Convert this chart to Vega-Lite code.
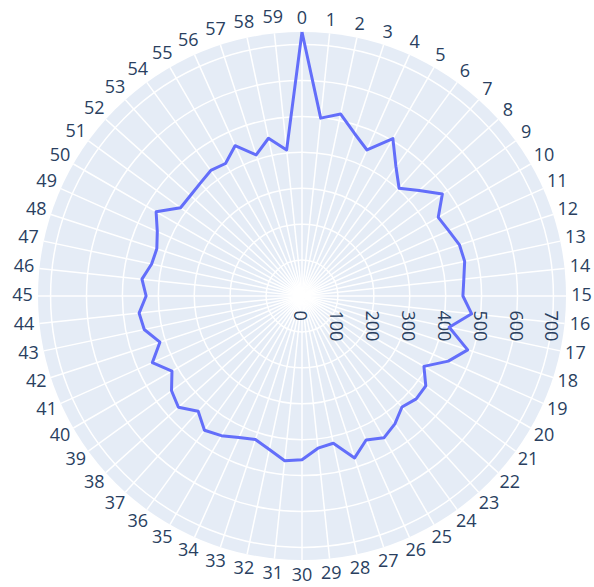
{
  "$schema": "https://vega.github.io/schema/vega-lite/v6.json",
  "width": 528,
  "height": 528,
  "autosize": "none",
  "padding": {"left": 38, "top": 32, "right": 28, "bottom": 27},
  "background": "white",
  "config": {"view": {"stroke": null}},
  "datasets": {
    "disc": [{"r": 735}],
    "rings": [{"r": 100}, {"r": 200}, {"r": 300}, {"r": 400}, {"r": 500}, {"r": 600}, {"r": 700}],
    "ticks": [{"t": 0}, {"t": 100}, {"t": 200}, {"t": 300}, {"t": 400}, {"t": 500}, {"t": 600}, {"t": 700}],
    "cats": [{"k":0},{"k":1},{"k":2},{"k":3},{"k":4},{"k":5},{"k":6},{"k":7},{"k":8},{"k":9},{"k":10},{"k":11},{"k":12},{"k":13},{"k":14},{"k":15},{"k":16},{"k":17},{"k":18},{"k":19},{"k":20},{"k":21},{"k":22},{"k":23},{"k":24},{"k":25},{"k":26},{"k":27},{"k":28},{"k":29},{"k":30},{"k":31},{"k":32},{"k":33},{"k":34},{"k":35},{"k":36},{"k":37},{"k":38},{"k":39},{"k":40},{"k":41},{"k":42},{"k":43},{"k":44},{"k":45},{"k":46},{"k":47},{"k":48},{"k":49},{"k":50},{"k":51},{"k":52},{"k":53},{"k":54},{"k":55},{"k":56},{"k":57},{"k":58},{"k":59}],
    "series": [
      {"k":0,"v":735},{"k":1,"v":498},{"k":2,"v":518},{"k":3,"v":475},{"k":4,"v":445},{"k":5,"v":506},{"k":6,"v":445},{"k":7,"v":404},{"k":8,"v":439},{"k":9,"v":483},
      {"k":10,"v":438},{"k":11,"v":447},{"k":12,"v":461},{"k":13,"v":463},{"k":14,"v":453},{"k":15,"v":448},{"k":16,"v":475},{"k":17,"v":419},{"k":18,"v":485},{"k":19,"v":446},
      {"k":20,"v":392},{"k":21,"v":426},{"k":22,"v":428},{"k":23,"v":416},{"k":24,"v":440},{"k":25,"v":456},{"k":26,"v":439},{"k":27,"v":474},{"k":28,"v":419},{"k":29,"v":426},
      {"k":30,"v":456},{"k":31,"v":461},{"k":32,"v":437},{"k":33,"v":420},{"k":34,"v":431},{"k":35,"v":449},{"k":36,"v":462},{"k":37,"v":432},{"k":38,"v":463},{"k":39,"v":449},
      {"k":40,"v":418},{"k":41,"v":456},{"k":42,"v":416},{"k":43,"v":449},{"k":44,"v":456},{"k":45,"v":434},{"k":46,"v":448},{"k":47,"v":428},{"k":48,"v":425},{"k":49,"v":441},
      {"k":50,"v":469},{"k":51,"v":418},{"k":52,"v":418},{"k":53,"v":423},{"k":54,"v":432},{"k":55,"v":426},{"k":56,"v":458},{"k":57,"v":413},{"k":58,"v":449},{"k":59,"v":409},
      {"k":60,"v":735}
    ]
  },
  "layer": [
    {
      "data": {"name": "disc"},
      "mark": {"type": "point", "shape": "circle", "filled": true, "fill": "#E5ECF6", "opacity": 1, "strokeWidth": 0},
      "encoding": {
        "x": {"datum": 0, "type": "quantitative", "scale": {"domain": [-735, 735], "nice": false, "zero": false}, "axis": null},
        "y": {"datum": 0, "type": "quantitative", "scale": {"domain": [-735, 735], "nice": false, "zero": false}, "axis": null},
        "size": {"field": "r", "type": "quantitative", "legend": null, "scale": {"type": "pow", "exponent": 2, "domain": [0, 735], "range": [0, 278784], "zero": true}}
      }
    },
    {
      "data": {"name": "rings"},
      "mark": {"type": "point", "shape": "circle", "filled": false, "stroke": "white", "opacity": 1, "strokeWidth": 1.5},
      "encoding": {
        "x": {"datum": 0, "type": "quantitative"},
        "y": {"datum": 0, "type": "quantitative"},
        "size": {"field": "r", "type": "quantitative", "legend": null}
      }
    },
    {
      "data": {"name": "cats"},
      "transform": [
        {"calculate": "datum.k * PI / 30", "as": "a"},
        {"calculate": "735 * sin(datum.a)", "as": "ex"},
        {"calculate": "735 * cos(datum.a)", "as": "ey"}
      ],
      "mark": {"type": "rule", "color": "white", "strokeWidth": 1.5},
      "encoding": {
        "x": {"field": "ex", "type": "quantitative"},
        "y": {"field": "ey", "type": "quantitative"},
        "x2": {"datum": 0},
        "y2": {"datum": 0}
      }
    },
    {
      "data": {"name": "ticks"},
      "mark": {"type": "text", "angle": 90, "align": "left", "baseline": "middle", "dx": 14.5, "dy": 3, "font": "Open Sans", "fontSize": 18, "color": "#2a3f5f"},
      "encoding": {
        "x": {"field": "t", "type": "quantitative"},
        "y": {"datum": 0, "type": "quantitative"},
        "text": {"field": "t", "type": "quantitative", "format": "d"}
      }
    },
    {
      "data": {"name": "series"},
      "transform": [
        {"calculate": "datum.k * PI / 30", "as": "a"},
        {"calculate": "datum.v * sin(datum.a)", "as": "px"},
        {"calculate": "datum.v * cos(datum.a)", "as": "py"}
      ],
      "mark": {"type": "line", "color": "#636efa", "strokeWidth": 3, "strokeJoin": "round"},
      "encoding": {
        "x": {"field": "px", "type": "quantitative"},
        "y": {"field": "py", "type": "quantitative"},
        "order": {"field": "k", "type": "quantitative"}
      }
    },
    {
      "data": {"name": "cats"},
      "transform": [
        {"calculate": "datum.k * PI / 30", "as": "a"},
        {"calculate": "length(toString(datum.k))", "as": "len"},
        {"calculate": "735 + (13 + 2.5 * (datum.len - 1)) * 735 / 264", "as": "lr"},
        {"calculate": "datum.lr * sin(datum.a)", "as": "lx"},
        {"calculate": "datum.lr * cos(datum.a)", "as": "ly"}
      ],
      "mark": {"type": "text", "align": "center", "baseline": "middle", "font": "Open Sans", "fontSize": 18, "color": "#2a3f5f"},
      "encoding": {
        "x": {"field": "lx", "type": "quantitative"},
        "y": {"field": "ly", "type": "quantitative"},
        "text": {"field": "k", "type": "nominal"}
      }
    }
  ]
}
